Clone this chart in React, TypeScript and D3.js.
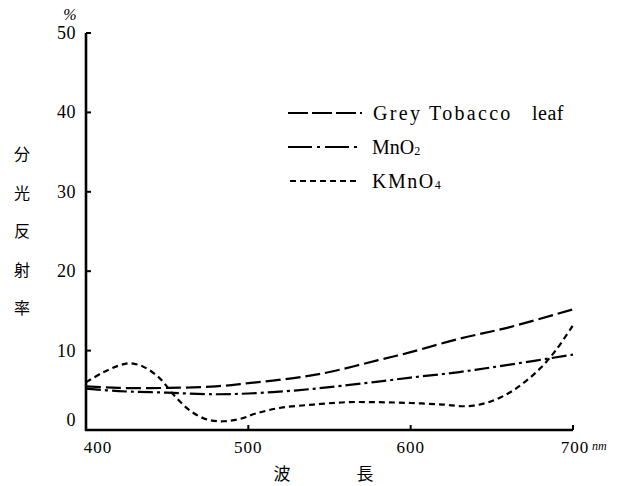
import React from "react";
import * as d3 from "d3";

// Spectral reflectance (%) against wavelength (nm)
const greyWl = [400, 420, 450, 480, 500, 530, 550, 580, 600, 630, 660, 700];
const greyVal = [5.5, 5.3, 5.3, 5.5, 5.9, 6.6, 7.3, 8.8, 9.8, 11.5, 12.9, 15.2];

const mnWl = [400, 420, 450, 480, 500, 530, 550, 580, 600, 630, 660, 700];
const mnVal = [5.2, 4.9, 4.7, 4.5, 4.6, 5.0, 5.4, 6.1, 6.6, 7.3, 8.2, 9.5];

const kmWl = [400, 410, 420, 427, 435, 445, 455, 465, 475, 485, 495, 505, 520, 540, 560, 580, 600, 620, 635, 648, 660, 670, 680, 690, 700];
const kmVal = [6.0, 7.2, 8.1, 8.4, 8.0, 6.6, 4.2, 2.3, 1.3, 1.1, 1.4, 2.1, 2.8, 3.2, 3.5, 3.5, 3.4, 3.2, 3.0, 3.5, 4.6, 6.0, 7.8, 10.2, 13.2];

const xTicks = [400, 500, 600, 700];
const yTicks = [0, 10, 20, 30, 40, 50];
const yTitle = ["分", "光", "反", "射", "率"];

const serif = "'Liberation Serif', 'Times New Roman', 'DejaVu Serif', serif";
const cjk = "'Noto Sans CJK JP', 'Noto Sans CJK SC', sans-serif";

const dashGrey = "15 5";
const dashMn = "15 4 3 4";
const dashKm = "6 4";

export default function App() {
  const x = d3.scaleLinear().domain([400, 700]).range([86, 573]);
  const y = d3.scaleLinear().domain([0, 50]).range([430, 33]);

  const line = (wl: number[], v: number[]) =>
    d3
      .line<number>()
      .x((_, i) => x(wl[i]))
      .y((d) => y(d))
      .curve(d3.curveCatmullRom.alpha(0.5))(v) || "";

  const series = [
    { wl: greyWl, v: greyVal, dash: dashGrey },
    { wl: mnWl, v: mnVal, dash: dashMn },
    { wl: kmWl, v: kmVal, dash: dashKm },
  ];

  const x0 = x(400);
  const x1 = x(700);
  const yBase = y(0);
  const yTop = y(50);

  return (
    <svg
      width={632}
      height={486}
      style={{ position: "absolute", left: 0, top: 0, background: "#fff" }}
    >
      <rect width={632} height={486} fill="#fff" />

      {/* axes */}
      <line x1={x0} y1={yTop} x2={x0} y2={yBase + 1} stroke="#000" strokeWidth={2.6} />
      <line x1={x0 - 1} y1={yBase} x2={x1} y2={yBase} stroke="#000" strokeWidth={2.6} />

      {yTicks.map((t) => (
        <g key={"y" + t}>
          <line x1={x0} x2={x0 + 5} y1={y(t)} y2={y(t)} stroke="#000" strokeWidth={2} />
          <text
            x={x0 - 10}
            y={y(t) + (t === 0 ? -4 : 6)}
            textAnchor="end"
            fontFamily={serif}
            fontSize={18}
            letterSpacing={0.5}
            fill="#000"
          >
            {t}
          </text>
        </g>
      ))}
      <text x={70} y={20} textAnchor="middle" fontFamily={serif} fontStyle="italic" fontSize={16} fill="#000">
        %
      </text>

      {xTicks.map((t) => (
        <g key={"x" + t}>
          {t !== 400 && (
            <line x1={x(t)} x2={x(t)} y1={yBase} y2={yBase - 5} stroke="#000" strokeWidth={2} />
          )}
          <text
            x={x(t) + (t === 400 ? 12 : t === 700 ? 2 : 0)}
            y={yBase + 23}
            textAnchor="middle"
            fontFamily={serif}
            fontSize={17}
            letterSpacing={1}
            fill="#000"
          >
            {t}
          </text>
        </g>
      ))}
      <text x={x(700) + 19} y={yBase + 20} fontFamily={serif} fontStyle="italic" fontSize={12} fill="#000">
        nm
      </text>

      {/* axis titles */}
      {yTitle.map((c, i) => (
        <text
          key={c}
          x={22}
          y={160 + i * 38.5}
          textAnchor="middle"
          fontFamily={cjk}
          fontSize={16}
          fill="#000"
        >
          {c}
        </text>
      ))}
      <text x={282} y={480} textAnchor="middle" fontFamily={cjk} fontSize={17} fill="#000">
        波
      </text>
      <text x={365} y={480} textAnchor="middle" fontFamily={cjk} fontSize={17} fill="#000">
        長
      </text>

      {/* curves */}
      {series.map((s, i) => (
        <path
          key={i}
          d={line(s.wl, s.v)}
          fill="none"
          stroke="#000"
          strokeWidth={2.2}
          strokeDasharray={s.dash}
        />
      ))}

      {/* legend */}
      <line x1={288} x2={362} y1={113} y2={113} stroke="#000" strokeWidth={2.2} strokeDasharray="20 4" />
      <text x={373} y={120} fontFamily={serif} fontSize={20} letterSpacing={2.3} fill="#000">
        Grey Tobacco
      </text>
      <text x={532} y={120} fontFamily={serif} fontSize={20} letterSpacing={0.5} fill="#000">
        leaf
      </text>

      <line x1={288} x2={362} y1={147} y2={147} stroke="#000" strokeWidth={2.2} strokeDasharray="24 5 3 5" />
      <text x={372} y={154} fontFamily={serif} fontSize={20} fill="#000">
        MnO
        <tspan fontSize={12} dy={1}>2</tspan>
      </text>

      <line x1={290} x2={360} y1={181} y2={181} stroke="#000" strokeWidth={2} strokeDasharray="6 4" />
      <text x={372} y={188} fontFamily={serif} fontSize={20} letterSpacing={1.5} fill="#000">
        KMnO
        <tspan fontSize={12} dy={1}>4</tspan>
      </text>
    </svg>
  );
}
